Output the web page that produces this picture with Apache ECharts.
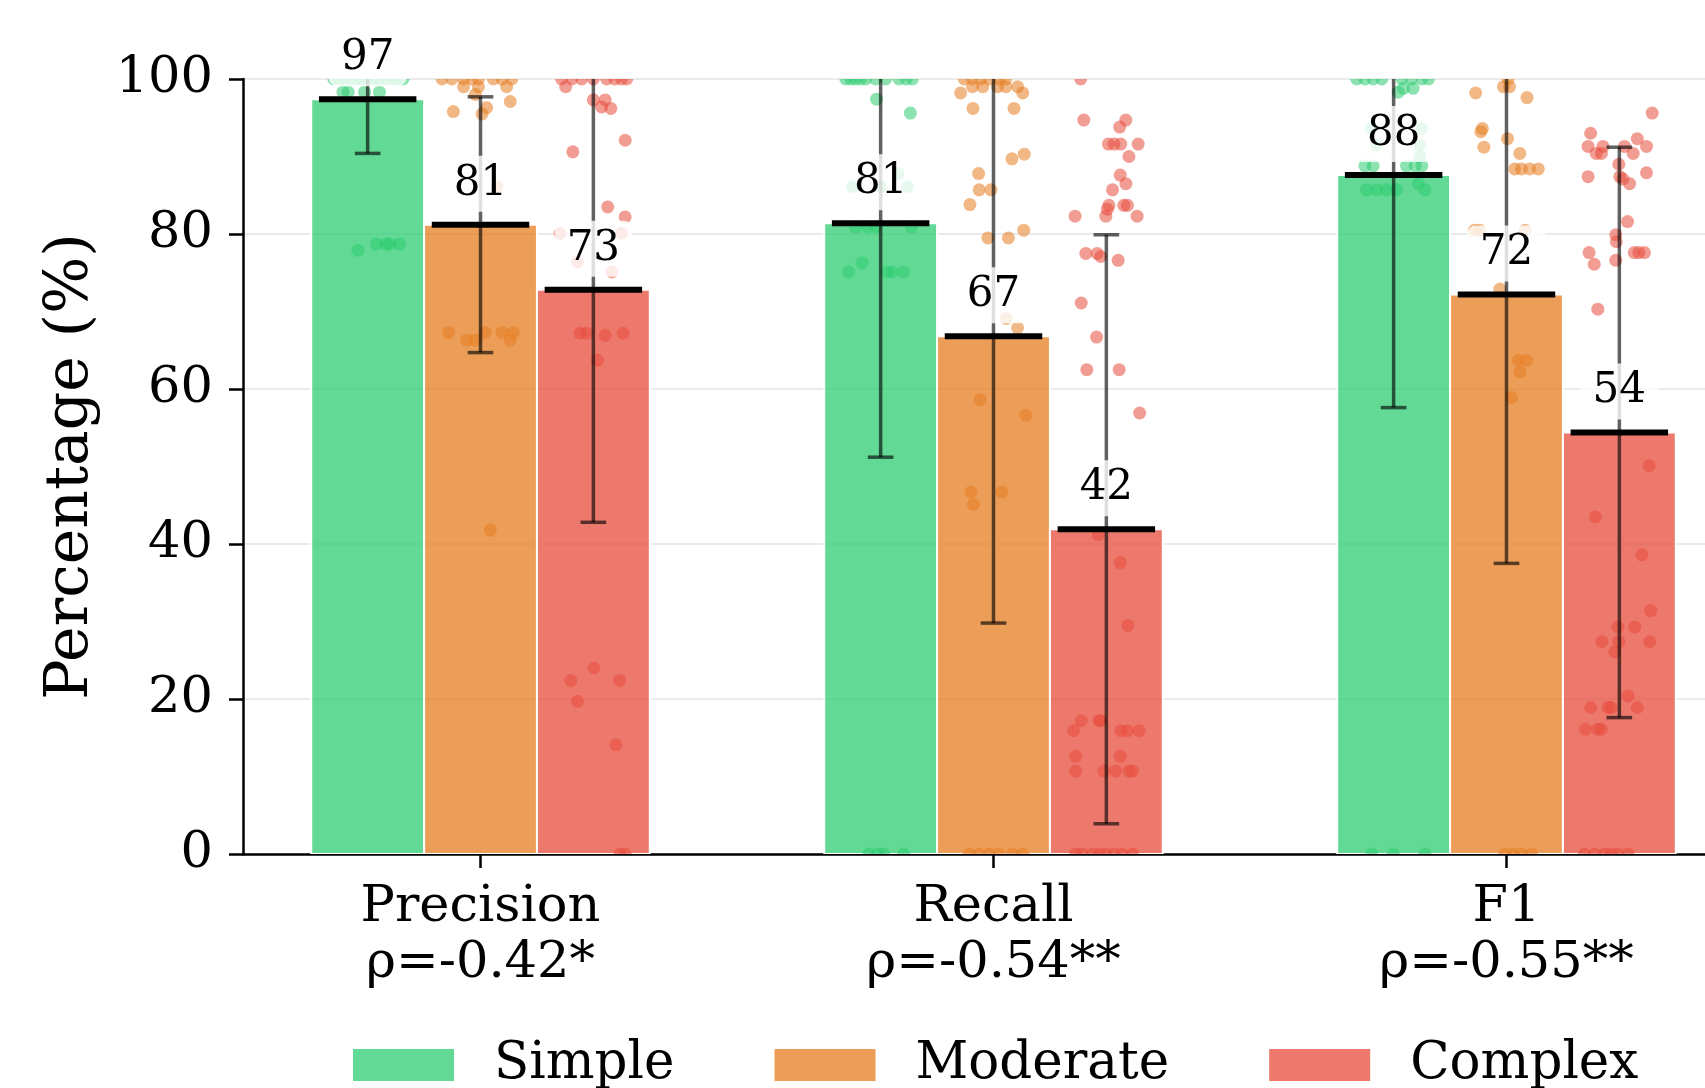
<!DOCTYPE html>
<html>
<head>
<meta charset="utf-8">
<script src="https://cdn.jsdelivr.net/npm/echarts@6/dist/echarts.min.js"></script>
<style>
  html, body { margin: 0; padding: 0; background: #fff; }
  #chart { width: 1705px; height: 1088px; }
</style>
</head>
<body>
<div id="chart"></div>
<script>
// categories / groups
var categories = ["Precision", "Recall", "F1"];
var rhoLabels = ["ρ=-0.42*", "ρ=-0.54**", "ρ=-0.55**"];
var levels = ["Simple", "Moderate", "Complex"];
var levelColors = ["46,204,113", "230,126,34", "231,76,60"];

// bar heights (mean %) and error half-widths (std)
var meanSimple = [97.4, 81.4, 87.6];
var meanModerate = [81.2, 66.8, 72.2];
var meanComplex = [72.8, 41.9, 54.4];
var stdSimple = [7.0, 30.2, 30.0];
var stdModerate = [16.5, 37.0, 34.7];
var stdComplex = [30.0, 38.0, 36.8];

// individual points: [jitter, value] for Precision, Recall, F1
var ptsSimple = [
  [[-0.066,100],[-0.055,100],[-0.045,100],[-0.034,100],[-0.022,100],[-0.012,100],[0.001,100],[0.012,100],[0.023,100],[0.036,100],[0.049,100],[0.060,100],[0.069,100],
   [-0.048,98.3],[-0.038,98.3],[-0.006,98.3],[0.023,98.3],[-0.019,77.9],[0.017,78.7],[0.036,78.7],[0.043,78.7],[0.062,78.7]],
  [[-0.068,100],[-0.058,100],[-0.049,100],[-0.039,100],[-0.029,100],[-0.010,100],[0.010,100],[0.036,100],[0.050,100],[0.062,100],
   [-0.008,97.4],[0.058,95.6],[0.034,87.8],[-0.055,86.1],[0,86.1],[0.052,86.1],[-0.049,80.9],[-0.026,80.9],[-0.010,80.9],[0.060,80.9],
   [-0.036,76.3],[-0.062,75.1],[0.013,75.1],[0.023,75.1],[0.045,75.1],[-0.023,0],[-0.006,0],[0.006,0],[0.045,0]],
  [[-0.072,100],[-0.056,100],[-0.040,100],[-0.023,100],[0.016,100],[0.035,100],[0.055,100],[0.068,100],[0.019,98.8],[0.038,98.8],[0.009,98.3],
   [-0.043,93.6],[0.055,93.6],[-0.033,91.5],[0.051,91.5],[0.051,90.0],[-0.056,88.8],[-0.040,88.8],[0.025,88.8],[0.042,88.8],[0.055,88.8],
   [0.048,86.5],[-0.053,85.7],[-0.033,85.7],[-0.014,85.7],[0.006,85.7],[0.061,85.7],[-0.043,0],[-0.001,0],[0.061,0]]
];
var ptsModerate = [
  [[-0.075,100],[-0.056,100],[-0.033,100],[-0.017,100],[-0.004,100],[0.025,100],[0.042,100],[0.061,100],[-0.033,99],[-0.004,99],[0.051,99],
   [-0.010,98],[0.058,97.1],[0.012,96.3],[-0.053,95.8],[0.003,95.5],[0.032,86.1],[-0.062,67.3],[0.009,67.3],[0.042,67.3],[0.064,67.3],
   [-0.027,66.3],[-0.010,66.3],[0.058,66.3],[0.019,41.8]],
  [[-0.057,100],[-0.041,100],[-0.025,100],[-0.008,100],[0.011,100],[0.024,100],[-0.041,99],[-0.021,99],[0.008,99],[0.024,99],[0.047,99],
   [-0.064,98.2],[0.057,98.2],[-0.040,96.2],[0.040,96.2],[0.060,90.3],[0.036,89.7],[-0.029,87.8],[-0.028,85.7],[-0.005,85.7],[-0.046,83.8],
   [0.059,80.5],[-0.011,79.5],[0.029,79.5],[0.025,69.1],[0.047,67.9],[-0.026,58.6],[0.063,56.6],[-0.044,46.7],[0.016,46.7],[-0.039,45.1],
   [-0.047,0],[-0.028,0],[-0.008,0],[0.011,0],[0.037,0],[0.057,0]],
  [[0.003,100],[-0.006,99],[0.006,99],[-0.060,98.2],[0.040,97.6],[-0.047,93.6],[-0.050,93.2],[0.002,92.3],[-0.044,91.2],[0.026,90.4],
   [0.016,88.4],[0.029,88.4],[0.045,88.4],[0.062,88.4],[-0.062,80.5],[-0.052,80.5],[0.036,80.5],[-0.013,72.9],[0.023,63.7],[0.039,63.7],
   [0.026,62.2],[0.010,58.9],[-0.003,0],[0.013,0],[0.029,0],[0.049,0]]
];
var ptsComplex = [
  [[-0.062,100],[-0.042,100],[-0.023,100],[0,100],[0.026,100],[0.042,100],[0.055,100],[0.065,100],[-0.054,99],[0,97.3],[0.023,97.3],
   [0.016,96.4],[0.034,96.2],[0.062,92.1],[-0.040,90.6],[0.028,83.5],[0.062,82.2],[-0.065,80.1],[0.055,80.1],[-0.031,76.4],[0.036,75.1],
   [-0.026,67.2],[-0.013,67.2],[0.058,67.2],[0.023,66.9],[0.008,63.7],[0.001,24.0],[-0.044,22.4],[0.051,22.4],[-0.031,19.7],[0.044,14.1],
   [0.052,0],[0.062,0]],
  [[-0.050,100],[-0.044,94.7],[0.038,94.7],[0.026,93.8],[0.004,91.6],[0.015,91.6],[0.028,91.6],[0.062,91.6],[0.044,90.0],[0.027,87.6],
   [0.038,86.5],[0.012,85.7],[0.005,83.7],[0.034,83.7],[0.041,83.7],[0.002,83.2],[-0.061,82.3],[-0.001,82.3],[0.060,82.3],[-0.040,77.5],
   [-0.018,77.5],[-0.011,77.1],[0.023,76.6],[-0.049,71.1],[-0.019,66.7],[-0.038,62.5],[0.025,62.5],[0.065,56.9],[-0.016,41.2],[0.027,37.6],
   [0.042,29.5],[-0.049,17.2],[-0.014,17.2],[-0.011,17.2],[-0.064,15.9],[0.028,15.9],[0.041,15.9],[0.064,15.9],[-0.060,12.6],[0.027,12.6],
   [-0.060,10.7],[-0.005,10.7],[0.018,10.7],[0.044,10.7],[0.051,10.7],
   [-0.060,0],[-0.047,0],[-0.027,0],[-0.014,0],[-0.001,0],[0.015,0],[0.031,0],[0.051,0]],
  [[0.064,95.6],[-0.056,93.0],[0.035,92.3],[-0.061,91.3],[-0.032,91.3],[0.010,91.3],[0.053,91.3],[-0.045,90.4],[-0.035,90.4],[0.027,90.4],
   [-0.001,89.0],[0.053,87.9],[-0.061,87.4],[0.001,87.4],[0.007,87.1],[0.020,86.5],[0.016,81.6],[-0.007,79.9],[-0.006,79.0],[-0.059,77.6],
   [0.029,77.6],[0.038,77.6],[0.049,77.6],[-0.007,76.6],[-0.049,76.1],[-0.042,70.3],[0.058,50.1],[-0.047,43.5],[0.044,38.6],[0.061,31.4],
   [-0.003,29.3],[0.030,29.3],[-0.034,27.4],[-0.001,27.4],[0.059,27.4],[-0.009,26.1],[0.017,20.4],[-0.056,18.9],[-0.022,18.9],[-0.016,18.9],
   [0.035,18.9],[-0.066,16.1],[-0.042,16.1],[-0.035,16.1],[-0.068,0],[-0.048,0],[-0.029,0],[-0.016,0],[-0.003,0],[0.017,0]]
];

var yTicks = [0, 20, 40, 60, 80, 100];

var FONT = "DejaVu Serif";
var BAR_W = 0.22;
var levelOffsets = [-0.22, 0, 0.22];
var means = [meanSimple, meanModerate, meanComplex];
var stds = [stdSimple, stdModerate, stdComplex];
var points = [ptsSimple, ptsModerate, ptsComplex];

function rgba(k, a) { return "rgba(" + levelColors[k] + "," + a + ")"; }

var series = [];
levels.forEach(function (name, k) {
  var barData = categories.map(function (c, i) { return [i + levelOffsets[k], means[k][i], stds[k][i]]; });

  // bars
  series.push({
    name: name, type: "custom", z: 2, clip: true,
    data: barData, encode: { x: 0, y: 1 },
    renderItem: function (params, api) {
      var x = api.value(0), v = api.value(1);
      var p0 = api.coord([x - BAR_W / 2, v]);
      var p1 = api.coord([x + BAR_W / 2, 0]);
      return {
        type: "rect",
        shape: { x: p0[0], y: p0[1], width: p1[0] - p0[0], height: p1[1] - p0[1] },
        style: { fill: rgba(k, 0.75), stroke: "#fff", lineWidth: 2 }
      };
    }
  });

  // jittered individual points
  var ptData = [];
  points[k].forEach(function (list, i) {
    list.forEach(function (p) { ptData.push([i + levelOffsets[k] + p[0], p[1]]); });
  });
  series.push({
    name: name, type: "custom", z: 3, clip: true,
    data: ptData, encode: { x: 0, y: 1 },
    renderItem: function (params, api) {
      var c = api.coord([api.value(0), api.value(1)]);
      return { type: "circle", shape: { cx: c[0], cy: c[1], r: 6.5 }, style: { fill: rgba(k, 0.55) } };
    }
  });

  // error bars + mean line
  series.push({
    name: name, type: "custom", z: 4, clip: true,
    data: barData, encode: { x: 0, y: 1 },
    renderItem: function (params, api) {
      var x = api.value(0), v = api.value(1), s = api.value(2);
      var top = api.coord([x, v + s]);
      var bot = api.coord([x, v - s]);
      var capL = api.coord([x - 0.025, 0])[0], capR = api.coord([x + 0.025, 0])[0];
      var mL = api.coord([x - 0.095, v]), mR = api.coord([x + 0.095, v]);
      var eStyle = { stroke: "rgba(0,0,0,0.62)", lineWidth: 3.5 };
      return {
        type: "group",
        children: [
          { type: "line", shape: { x1: top[0], y1: top[1], x2: bot[0], y2: bot[1] }, style: eStyle },
          { type: "line", shape: { x1: capL, y1: top[1], x2: capR, y2: top[1] }, style: eStyle },
          { type: "line", shape: { x1: capL, y1: bot[1], x2: capR, y2: bot[1] }, style: eStyle },
          { type: "line", shape: { x1: mL[0], y1: mL[1], x2: mR[0], y2: mR[1] }, style: { stroke: "#000", lineWidth: 6 } }
        ]
      };
    }
  });

  // value labels
  series.push({
    name: name, type: "custom", z: 5, clip: false,
    data: barData, encode: { x: 0, y: 1 },
    renderItem: function (params, api) {
      var v = api.value(1);
      var p = api.coord([api.value(0), v]);
      return {
        type: "text", x: p[0], y: p[1] - 41,
        style: {
          text: String(Math.round(v)), fill: "#000",
          font: "42px '" + FONT + "'", align: "center", verticalAlign: "middle",
          backgroundColor: "rgba(255,255,255,0.8)", padding: [7, 12], borderRadius: 8
        }
      };
    }
  });
});

var chart = echarts.init(document.getElementById("chart"), null, { renderer: "canvas" });
chart.setOption({
  animation: false,
  backgroundColor: "#fff",
  textStyle: { fontFamily: FONT },
  grid: { left: 243, top: 79, width: 1501, height: 775, outerBoundsMode: "none", containLabel: false },
  legend: {
    data: levels.map(function (n, k) { return { name: n, itemStyle: { color: rgba(k, 0.75) } }; }),
    icon: "rect", left: 348, top: 1034,
    itemWidth: 101, itemHeight: 32, itemGap: 100,
    textStyle: { fontFamily: FONT, fontSize: 51.5, color: "#000", padding: [0, 0, 0, 35] }
  },
  xAxis: {
    type: "value", min: -0.463, max: 2.463,
    splitLine: { show: false },
    axisLine: { show: true, onZero: false, lineStyle: { color: "#000", width: 2.5 } },
    axisTick: { show: true, customValues: [0, 1, 2], length: 14, lineStyle: { color: "#000", width: 2.5 } },
    axisLabel: {
      customValues: [0, 1, 2], margin: 26, color: "#000", fontFamily: FONT, fontSize: 51, lineHeight: 56,
      formatter: function (val) { var i = Math.round(val); return categories[i] + "\n" + rhoLabels[i]; }
    }
  },
  yAxis: {
    type: "value", min: 0, max: 100, interval: 20,
    name: "Percentage (%)", nameLocation: "middle", nameGap: 142,
    nameTextStyle: { fontFamily: FONT, fontSize: 60, color: "#000" },
    axisLine: { show: true, onZero: false, lineStyle: { color: "#000", width: 2.5 } },
    axisTick: { show: true, length: 14, lineStyle: { color: "#000", width: 2.5 } },
    axisLabel: { margin: 30, color: "#000", fontFamily: FONT, fontSize: 51 },
    splitLine: { show: true, lineStyle: { color: "#ebebeb", width: 2 } }
  },
  series: series
});
window.addEventListener("resize", function () { chart.resize(); });
</script>
</body>
</html>
